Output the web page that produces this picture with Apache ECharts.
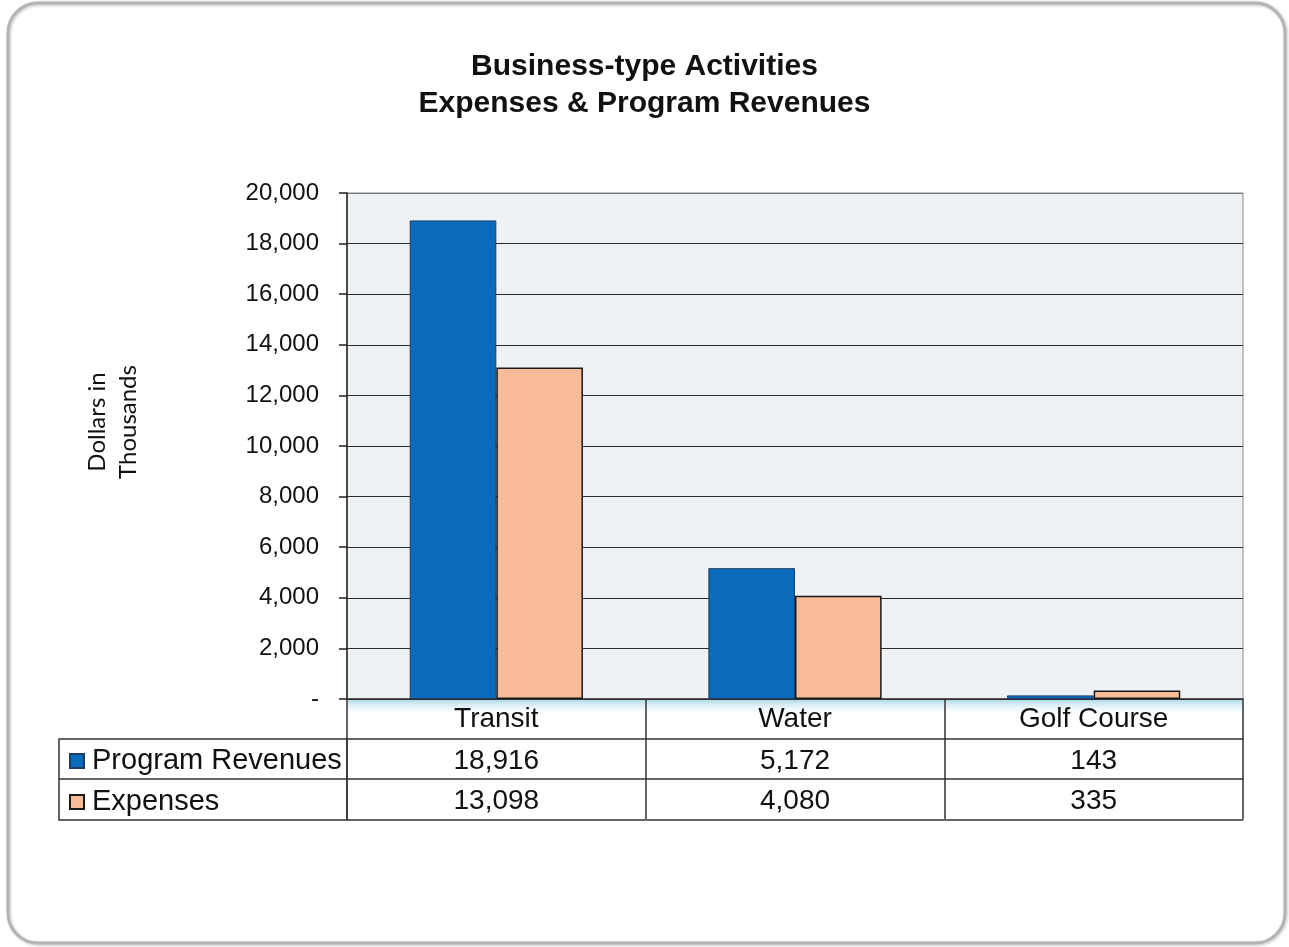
<!DOCTYPE html>
<html>
<head>
<meta charset="utf-8">
<title>Business-type Activities</title>
<script src="https://cdn.jsdelivr.net/npm/echarts@6/dist/echarts.min.js"></script>
<style>
  html, body { margin: 0; padding: 0; background: #ffffff; }
  #chart { width: 1289px; height: 947px; }
</style>
</head>
<body>
<div id="chart"></div>
<script>
// Categories and values (dollars in thousands)
const categories = ['Transit', 'Water', 'Golf Course'];
const seriesNames = ['Program Revenues', 'Expenses'];
const programRevenues = [18916, 5172, 143];
const expenses = [13098, 4080, 335];
const yMin = 0;
const yMax = 20000;
const yStep = 2000;

const fmt = v => v.toLocaleString('en-US');
const FONT = '"Liberation Sans", Arial, sans-serif';

// Layout of the plot area and the data table under it
const G = { left: 347, top: 193, right: 46, bottom: 248 };
const ROW = 40;
const W = 1289, H = 947;
const plotRight = W - G.right;
const plotBottom = H - G.bottom;
const legendColLeft = 59;

const chart = echarts.init(document.getElementById('chart'), null, { renderer: 'canvas' });

// One category axis per table row: its line is the row's top rule,
// its ticks are the cell dividers, its labels are the cell texts.
function tableAxis(offset, formatter, showLabels, showTicks, margin) {
  return {
    type: 'category',
    data: categories,
    gridIndex: 0,
    position: 'bottom',
    offset: offset,
    boundaryGap: true,
    axisLine: { show: true, lineStyle: { color: '#333', width: 1.5 } },
    axisTick: { show: showTicks, interval: 0, alignWithLabel: false, length: ROW, inside: false,
                lineStyle: { color: '#333', width: 1.5 } },
    axisLabel: { show: showLabels, interval: 0, margin: margin, fontFamily: FONT, fontSize: 28,
                 color: '#111', formatter: formatter },
    splitLine: { show: false }
  };
}

const splitColors = [];
for (let v = yMin; v <= yMax; v += yStep) splitColors.push(v === yMax ? '#777' : '#2a2a2a');

const option = {
  backgroundColor: '#ffffff',
  animation: false,
  title: {
    text: 'Business-type Activities\nExpenses & Program Revenues',
    left: 'center',
    top: 43,
    textStyle: { fontFamily: FONT, fontSize: 30, fontWeight: 'bold', color: '#111', lineHeight: 37 }
  },
  legend: {
    orient: 'vertical',
    left: 69,
    top: plotBottom + ROW + 6,
    padding: 0,
    itemWidth: 14,
    itemHeight: 14,
    itemGap: 9,
    icon: 'rect',
    selectedMode: false,
    textStyle: { fontFamily: FONT, fontSize: 29, color: '#111', lineHeight: 32, padding: [0, 0, 0, 3] },
    data: seriesNames
  },
  grid: {
    left: G.left, top: G.top, right: G.right, bottom: G.bottom,
    show: true, backgroundColor: '#eef2f4', borderColor: '#8a8a8a', borderWidth: 1
  },
  xAxis: [
    tableAxis(0, v => v, true, true, 6),
    tableAxis(ROW, (v, i) => fmt(programRevenues[i]), true, true, 8),
    tableAxis(ROW * 2, (v, i) => fmt(expenses[i]), true, true, 8),
    tableAxis(ROW * 3 + 1, () => '', false, false, 0)
  ],
  yAxis: {
    type: 'value',
    min: yMin, max: yMax, interval: yStep,
    axisLine: { show: true, lineStyle: { color: '#222', width: 1.5 } },
    axisTick: { show: true, length: 8, lineStyle: { color: '#222', width: 1.5 } },
    axisLabel: { margin: 28, fontFamily: FONT, fontSize: 24, color: '#111',
                 formatter: v => (v === 0 ? '-' : fmt(v)) },
    splitLine: { show: true, lineStyle: { color: splitColors, width: 1.2 } }
  },
  series: [
    {
      name: seriesNames[0], type: 'bar', data: programRevenues,
      barGap: '0%', barCategoryGap: '42%',
      itemStyle: { color: '#0a6bbd', borderColor: '#1d3f66', borderWidth: 1 }
    },
    {
      name: seriesNames[1], type: 'bar', data: expenses,
      barGap: '0%', barCategoryGap: '42%',
      itemStyle: { color: '#f8bc98', borderColor: '#1a1a1a', borderWidth: 1.5 }
    }
  ],
  graphic: [
    // rounded outer frame
    { type: 'rect', shape: { x: 8, y: 3, width: 1277, height: 940, r: 30 },
      style: { fill: 'none', stroke: '#b4b4b4', lineWidth: 3,
               shadowColor: 'rgba(0,0,0,0.25)', shadowBlur: 3, shadowOffsetX: 1, shadowOffsetY: 1 },
      silent: true },
    // soft blue glow under the category axis
    { type: 'rect', shape: { x: G.left + 1, y: plotBottom + 1, width: plotRight - G.left - 1, height: 16 },
      style: { fill: new echarts.graphic.LinearGradient(0, 0, 0, 1, [
        { offset: 0, color: 'rgba(150,205,225,0.75)' },
        { offset: 1, color: 'rgba(255,255,255,0)' }
      ]) }, silent: true, z: -1 },
    // legend column of the data table
    { type: 'rect', shape: { x: legendColLeft, y: plotBottom + ROW, width: G.left - legendColLeft, height: ROW * 2 + 1 },
      style: { fill: 'none', stroke: '#333', lineWidth: 1.5 }, silent: true },
    { type: 'line', shape: { x1: legendColLeft, y1: plotBottom + ROW * 2, x2: G.left, y2: plotBottom + ROW * 2 },
      style: { stroke: '#333', lineWidth: 1.5 }, silent: true },
    // y axis title
    { type: 'text', x: 113, y: 422, rotation: Math.PI / 2,
      style: { text: 'Dollars in\nThousands', fontFamily: 'Lato, "Open Sans", sans-serif', fontSize: 24,
               fill: '#111', align: 'center', verticalAlign: 'middle', lineHeight: 31 },
      silent: true }
  ]
};

chart.setOption(option);
</script>
</body>
</html>
